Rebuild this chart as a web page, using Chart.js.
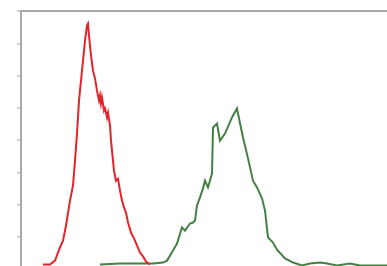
<!DOCTYPE html>
<html>
<head>
<meta charset="utf-8">
<script src="https://cdn.jsdelivr.net/npm/chart.js@4"></script>
<style>
  html, body { margin: 0; padding: 0; background: #fff; overflow: hidden; }
  #wrap { position: absolute; left: 0; top: 0; width: 440px; height: 282px; }
</style>
</head>
<body>
<div id="wrap"><canvas id="histo"></canvas></div>
<script>
// channel (x) and counts (y)
const redX = [55, 72.5, 85, 97.5, 105, 112.5, 122.5, 130, 135, 140, 145, 150, 155, 160, 165, 167.5,
  170, 172.5, 175, 180, 185, 190, 195, 197.5, 200, 202.5, 207.5, 210, 215, 217.5, 222.5, 225, 227.5,
  232.5, 237.5, 242.5, 247.5, 252.5, 257.5, 262.5, 267.5, 275, 282.5, 290, 297.5, 305, 312.5, 322.5];
const redY = [14, 14, 26, 67, 88, 135, 212, 259, 336, 420, 522, 584, 646, 708, 755, 761,
  724, 693, 662, 615, 591, 553, 522, 538, 513, 532, 491, 498, 470, 485, 445, 398, 367,
  305, 274, 280, 243, 212, 191, 175, 144, 113, 95, 73, 51, 39, 23, 14];

const greenX = [197.5, 247.5, 297.5, 330, 355, 365, 380, 390, 402.5, 410, 422.5, 430, 435, 440, 447.5,
  455, 460, 467.5, 477.5, 480, 490, 497.5, 510, 527.5, 540, 542.5, 555, 567.5, 580, 590, 602.5, 610,
  617.5, 630, 640, 660, 680, 702.5, 722.5, 747.5, 765, 790, 822.5, 847.5, 915, 947.5];
const greenY = [14, 17, 17, 17, 20, 26, 57, 79, 129, 119, 141, 144, 150, 197, 222,
  250, 274, 253, 296, 439, 451, 398, 420, 470, 498, 482, 408, 343, 274, 253, 219, 181,
  98, 82, 60, 33, 20, 11, 17, 20, 17, 11, 17, 11, 11, 11];

const xMax = 1000;
const yMax = 800;
const yStep = 100;

const toPoints = (xs, ys) => xs.map((x, i) => ({ x: x, y: ys[i] }));

const frameColor = '#aaaaaa';

new Chart(document.getElementById('histo'), {
  type: 'scatter',
  data: {
    datasets: [
      {
        data: toPoints(redX, redY),
        showLine: true,
        borderColor: '#e3242b',
        borderWidth: 2,
        pointRadius: 0,
        tension: 0
      },
      {
        data: toPoints(greenX, greenY),
        showLine: true,
        borderColor: '#438043',
        borderWidth: 2,
        pointRadius: 0,
        tension: 0
      }
    ]
  },
  options: {
    responsive: true,
    maintainAspectRatio: false,
    devicePixelRatio: 1,
    animation: false,
    layout: { padding: { left: 0, top: 0, right: 19, bottom: 0 } },
    plugins: { legend: { display: false }, tooltip: { enabled: false } },
    scales: {
      x: {
        type: 'linear', position: 'bottom', min: 0, max: xMax,
        ticks: { display: false },
        grid: { display: false },
        border: { display: true, color: frameColor, width: 2 },
        afterFit: (s) => { s.height = 13; }
      },
      xTop: {
        type: 'linear', position: 'top', min: 0, max: xMax,
        ticks: { display: false },
        grid: { display: false },
        border: { display: true, color: frameColor, width: 2 },
        afterFit: (s) => { s.height = 11; }
      },
      y: {
        type: 'linear', min: 0, max: yMax,
        ticks: { display: false, stepSize: yStep },
        grid: { drawOnChartArea: false, drawTicks: true, tickLength: 4, color: '#c4c4c4', lineWidth: 1.5 },
        border: { display: true, color: frameColor, width: 2 },
        afterFit: (s) => { s.width = 21; }
      }
    }
  }
});
</script>
</body>
</html>
